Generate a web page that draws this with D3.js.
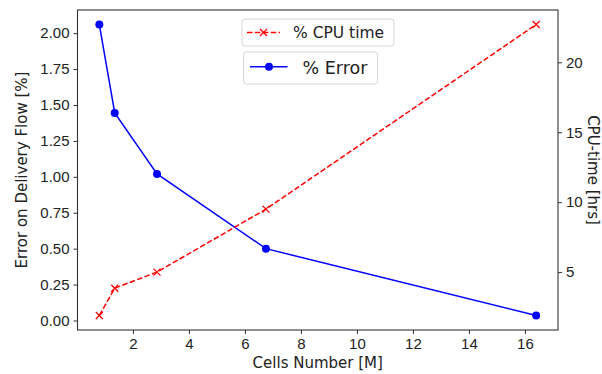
<!DOCTYPE html>
<html>
<head>
<meta charset="utf-8">
<script src="https://cdn.jsdelivr.net/npm/d3@7"></script>
<style>
  html, body { margin: 0; padding: 0; background: #fff; }
  svg { display: block; font-family: "DejaVu Sans", sans-serif; }
</style>
</head>
<body>
<svg id="chart" width="602" height="374"></svg>
<script>
// Mesh size in millions of cells
const cells = [0.8, 1.35, 2.86, 6.75, 16.4];
// Error on delivery flow (%), left axis
const errorPct = [2.06, 1.445, 1.02, 0.5, 0.035];
// CPU time (hours), right axis
const cpuHours = [1.9, 3.85, 5.0, 9.5, 22.7];

const xTicks = [2, 4, 6, 8, 10, 12, 14, 16];
const yLeftTicks = [0, 0.25, 0.5, 0.75, 1.0, 1.25, 1.5, 1.75, 2.0];
const yRightTicks = [5, 10, 15, 20];

const margin = { left: 77.5, top: 10, right: 602 - 558, bottom: 374 - 330 };
const W = 602, H = 374;
const x0 = margin.left, x1 = W - margin.right, y0 = margin.top, y1 = H - margin.bottom;

const svg = d3.select("#chart");

// padded extent like an automatic 5% margin
function padded(vals) {
  const [a, b] = d3.extent(vals);
  const p = (b - a) * 0.05;
  return [a - p, b + p];
}

const x = d3.scaleLinear().domain(padded(cells)).range([x0, x1]);
const yL = d3.scaleLinear().domain(padded(errorPct)).range([y1, y0]);
const yR = d3.scaleLinear().domain(padded(cpuHours)).range([y1, y0]);

const textColor = "#222";
const fs = 15;

// axes
const gx = svg.append("g").attr("transform", `translate(0,${y1})`)
  .call(d3.axisBottom(x).tickValues(xTicks).tickFormat(d3.format("d")).tickSize(4).tickPadding(4));
const gl = svg.append("g").attr("transform", `translate(${x0},0)`)
  .call(d3.axisLeft(yL).tickValues(yLeftTicks).tickFormat(d3.format(".2f")).tickSize(4).tickPadding(4));
const gr = svg.append("g").attr("transform", `translate(${x1},0)`)
  .call(d3.axisRight(yR).tickValues(yRightTicks).tickFormat(d3.format("d")).tickSize(4).tickPadding(4));

[gx, gl, gr].forEach(g => {
  g.select(".domain").remove();
  g.selectAll(".tick line").attr("stroke", "#333").attr("stroke-width", 1);
  g.selectAll(".tick text").attr("fill", textColor).style("font-size", fs + "px");
});

// frame
svg.append("rect")
  .attr("x", x0).attr("y", y0).attr("width", x1 - x0).attr("height", y1 - y0)
  .attr("fill", "none").attr("stroke", "#333").attr("stroke-width", 1.1);

// axis titles
svg.append("text").attr("x", (x0 + x1) / 2).attr("y", 368)
  .attr("text-anchor", "middle").attr("fill", textColor).style("font-size", fs + "px")
  .text("Cells Number [M]");
svg.append("text")
  .attr("transform", `translate(26.5,${(y0 + y1) / 2}) rotate(-90)`)
  .attr("text-anchor", "middle").attr("fill", textColor).style("font-size", fs + "px")
  .text("Error on Delivery Flow [%]");
svg.append("text")
  .attr("transform", `translate(588,${(y0 + y1) / 2}) rotate(90)`)
  .attr("text-anchor", "middle").attr("fill", textColor).style("font-size", fs + "px")
  .text("CPU-time [hrs]");

// error series: solid blue with round markers
const errPts = cells.map((c, i) => [c, errorPct[i]]);
svg.append("path")
  .attr("d", d3.line().x(d => x(d[0])).y(d => yL(d[1]))(errPts))
  .attr("fill", "none").attr("stroke", "#0000ff").attr("stroke-width", 1.5);
svg.append("g").selectAll("circle").data(errPts).join("circle")
  .attr("cx", d => x(d[0])).attr("cy", d => yL(d[1])).attr("r", 4)
  .attr("fill", "#0000ff");

// CPU series: dashed red with x markers
const cpuPts = cells.map((c, i) => [c, cpuHours[i]]);
svg.append("path")
  .attr("d", d3.line().x(d => x(d[0])).y(d => yR(d[1]))(cpuPts))
  .attr("fill", "none").attr("stroke", "#ff0000").attr("stroke-width", 1.5)
  .attr("stroke-dasharray", "5.5,2.4");

function xMark(g, cx, cy, s) {
  g.append("path")
    .attr("d", `M${cx - s},${cy - s}L${cx + s},${cy + s}M${cx - s},${cy + s}L${cx + s},${cy - s}`)
    .attr("stroke", "#ff0000").attr("stroke-width", 1.3).attr("fill", "none");
}
const gm = svg.append("g");
cpuPts.forEach(d => xMark(gm, x(d[0]), yR(d[1]), 3.5));

// legend boxes
function legendBox(bx, by, bw, bh) {
  svg.append("rect").attr("x", bx).attr("y", by).attr("width", bw).attr("height", bh)
    .attr("rx", 3).attr("fill", "#fff").attr("fill-opacity", 0.85)
    .attr("stroke", "#d6d6d6").attr("stroke-width", 1);
}

legendBox(242, 19, 152, 27);
svg.append("line").attr("x1", 247).attr("x2", 280).attr("y1", 32.5).attr("y2", 32.5)
  .attr("stroke", "#ff0000").attr("stroke-width", 1.5).attr("stroke-dasharray", "5.5,2.4");
xMark(svg, 263.5, 32.5, 3.5);
svg.append("text").attr("x", 293).attr("y", 38).attr("fill", textColor)
  .style("font-size", "15.5px").text("% CPU time");

legendBox(243.5, 52, 134, 32);
svg.append("line").attr("x1", 250).attr("x2", 287.5).attr("y1", 66.7).attr("y2", 66.7)
  .attr("stroke", "#0000ff").attr("stroke-width", 1.5);
svg.append("circle").attr("cx", 269).attr("cy", 66.7).attr("r", 4).attr("fill", "#0000ff");
svg.append("text").attr("x", 302.5).attr("y", 73.5).attr("fill", textColor)
  .style("font-size", "17.5px").text("% Error");
</script>
</body>
</html>
